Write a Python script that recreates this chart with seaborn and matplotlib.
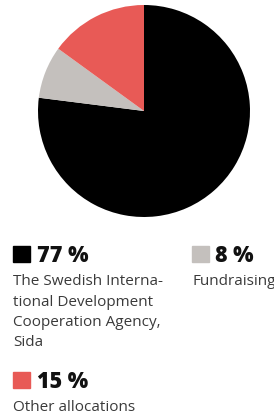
import numpy as np
import seaborn as sns
import matplotlib.pyplot as plt
from matplotlib.patches import Rectangle

labels = ["77 %", "8 %", "15 %"]
shares = [77, 8, 15]
descriptions = [["The Swedish Interna-", "tional Development", "Cooperation Agency,", "Sida"],
                ["Fundraising"],
                ["Other allocations"]]
colors = ["#000000", "#c4c0bd", "#e85a56"]

sns.set_style("white")
plt.rcParams['font.family'] = ['Open Sans', 'DejaVu Sans']

W, H = 274, 417
fig = plt.figure(figsize=(W / 100, H / 100), dpi=100)

# pie: centre (144,111), radius 106 px
ax = fig.add_axes([38 / W, 1 - 217 / H, 212 / W, 212 / H])
ax.pie(shares, colors=colors, startangle=90, counterclock=False,
       wedgeprops=dict(linewidth=0))
ax.set_xlim(-1, 1)
ax.set_ylim(-1, 1)
ax.axis("off")

# legend blocks: (square x, square top y, text x, baseline y)
pos = [(13, 246, 37, 262), (192, 246, 215, 262), (13, 372, 37, 388)]
for (sx, sy, tx, by), lab, desc, c in zip(pos, labels, descriptions, colors):
    fig.patches.append(Rectangle((sx / W, 1 - (sy + 16) / H), 17 / W, 16 / H,
                                 transform=fig.transFigure, color=c))
    fig.text(tx / W, 1 - by / H, lab, fontsize=15.5, fontweight="heavy",
             va="baseline", ha="left", color="#111111")
    for i, line in enumerate(desc):
        fig.text(sx / W, 1 - (by + 23 + 20.5 * i) / H, line, fontsize=11,
                 va="baseline", ha="left", color="#3a3a3a")

fig.savefig("out.png", dpi=100)
